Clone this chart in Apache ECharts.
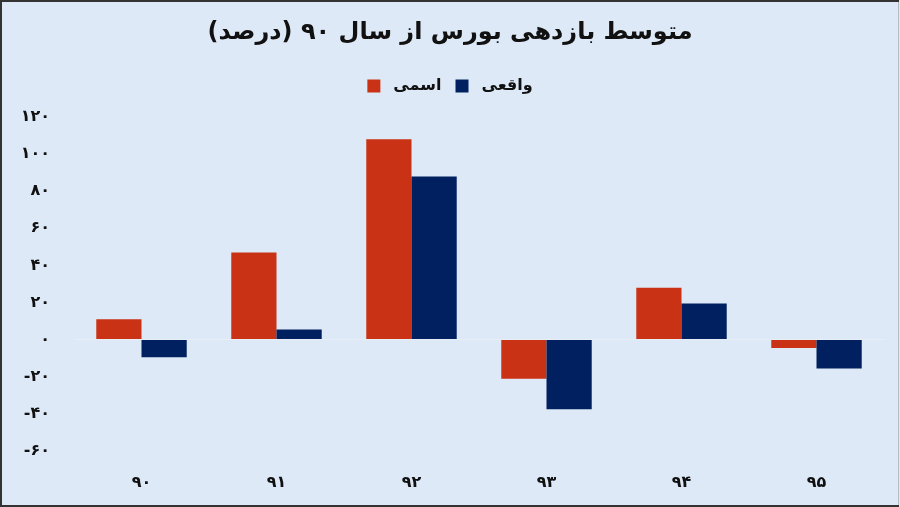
<!DOCTYPE html>
<html>
<head>
<meta charset="utf-8">
<script src="https://cdn.jsdelivr.net/npm/echarts@6/dist/echarts.min.js"></script>
<style>
html,body{margin:0;padding:0;background:#dde9f6;}
#c{width:900px;height:507px;}
</style>
</head>
<body>
<div id="c"></div>
<script>
const titleText = 'متوسط بازدهی بورس از سال ۹۰ (درصد)';
const categories = ['۹۰', '۹۱', '۹۲', '۹۳', '۹۴', '۹۵'];
const seriesNames = ['اسمی', 'واقعی'];
const nominal = [11, 47, 108, -21, 28, -4.5];
const real = [-9.5, 5.5, 88, -37.5, 19.5, -15.5];
const yTicks = { min: -60, max: 120, interval: 20 };

const fa = ['۰','۱','۲','۳','۴','۵','۶','۷','۸','۹'];
function toFa(v) {
  const s = String(Math.abs(v)).replace(/[0-9]/g, d => fa[+d]);
  return (v < 0 ? '-' : '') + s;
}
const FONT = 'DejaVu Sans';

const chart = echarts.init(document.getElementById('c'));
chart.setOption({
  backgroundColor: '#dde9f6',
  animation: false,
  title: {
    text: titleText,
    left: 'center',
    top: 16,
    textStyle: { fontFamily: FONT, fontWeight: 'bold', fontSize: 24, color: '#111' }
  },
  legend: {
    data: seriesNames,
    top: 73,
    left: 'center',
    itemWidth: 13,
    itemHeight: 13,
    itemGap: 14,
    icon: 'rect',
    formatter: name => '\u2002' + name,
    textStyle: { fontFamily: FONT, fontWeight: 'bold', fontSize: 16, color: '#111' }
  },
  grid: { left: 74, right: 16, top: 117, bottom: 56 },
  xAxis: {
    type: 'category',
    data: categories,
    axisLine: { show: false, onZero: false },
    axisTick: { show: false },
    axisLabel: { margin: 24, fontFamily: FONT, fontWeight: 'bold', fontSize: 16, color: '#111' }
  },
  yAxis: {
    type: 'value',
    min: yTicks.min,
    max: yTicks.max,
    interval: yTicks.interval,
    splitLine: { show: false },
    axisLine: { show: false },
    axisTick: { show: false },
    axisLabel: {
      margin: 24,
      formatter: v => toFa(v),
      fontFamily: FONT, fontWeight: 'bold', fontSize: 16, color: '#111'
    }
  },
  series: [
    {
      name: seriesNames[0],
      type: 'bar',
      data: nominal,
      barGap: '0%',
      barCategoryGap: '33%',
      itemStyle: { color: '#c93214' },
      markLine: {
        silent: true,
        symbol: ['none', 'none'],
        label: { show: false },
        lineStyle: { color: '#e8eef6', width: 1, type: 'solid' },
        data: [{ yAxis: 0 }]
      }
    },
    {
      name: seriesNames[1],
      type: 'bar',
      data: real,
      itemStyle: { color: '#00205f' }
    }
  ],
  graphic: [
    {
      type: 'polyline',
      shape: { points: [[899, 1], [1, 1], [1, 506], [899, 506]] },
      style: { fill: 'none', stroke: '#333333', lineWidth: 2 },
      silent: true
    },
    {
      type: 'line',
      shape: { x1: 898.5, y1: 2, x2: 898.5, y2: 505 },
      style: { stroke: '#b8bcc2', lineWidth: 1 },
      silent: true
    }
  ]
});
</script>
</body>
</html>
